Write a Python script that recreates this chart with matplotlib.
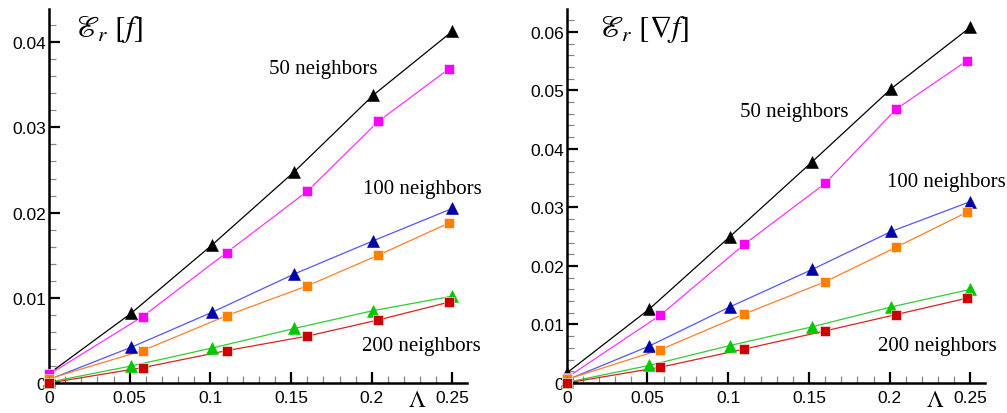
import matplotlib
matplotlib.use("Agg")
import matplotlib.pyplot as plt
from matplotlib.ticker import MultipleLocator
from matplotlib.transforms import blended_transform_factory

plt.rcParams['mathtext.fontset'] = 'stix'

# ---- data ----
lam_tri = [0.0, 0.051, 0.101, 0.152, 0.201, 0.250]
lam_sq = [0.0, 0.058, 0.110, 0.160, 0.204, 0.248]

# left panel: E_r[f]
f_50_tri = [0.0011, 0.0082, 0.0162, 0.0248, 0.0338, 0.0413]
f_50_sq = [0.0010, 0.0078, 0.0153, 0.0225, 0.0307, 0.0369]
f_100_tri = [0.0004, 0.0042, 0.0083, 0.0128, 0.0167, 0.0205]
f_100_sq = [0.0005, 0.0038, 0.0079, 0.0114, 0.0150, 0.0188]
f_200_tri = [0.0001, 0.0020, 0.0041, 0.0064, 0.0085, 0.0102]
f_200_sq = [0.0000, 0.0018, 0.0038, 0.0055, 0.0074, 0.0095]

# right panel: E_r[grad f]
g_50_tri = [0.0017, 0.0126, 0.0250, 0.0378, 0.0503, 0.0608]
g_50_sq = [0.0009, 0.0116, 0.0237, 0.0341, 0.0468, 0.0551]
g_100_tri = [0.0005, 0.0063, 0.0130, 0.0194, 0.0259, 0.0310]
g_100_sq = [0.0006, 0.0057, 0.0118, 0.0173, 0.0232, 0.0292]
g_200_tri = [0.0001, 0.0030, 0.0064, 0.0096, 0.0130, 0.0160]
g_200_sq = [0.0000, 0.0027, 0.0058, 0.0089, 0.0117, 0.0145]

left_yticks = [0, 0.01, 0.02, 0.03, 0.04]
left_yticklabels = ['0', '0.01', '0.02', '0.03', '0.04']
right_yticks = [0, 0.01, 0.02, 0.03, 0.04, 0.05, 0.06]
right_yticklabels = ['0', '0.01', '0.02', '0.03', '0.04', '0.05', '0.06']
xticks = [0, 0.05, 0.1, 0.15, 0.2, 0.25]
xticklabels = ['0', '0.05', '0.1', '0.15', '0.2', '0.25']
labels = ['50 neighbors', '100 neighbors', '200 neighbors']

# styles: (line color, marker color, marker)
styles = [
    ('#000000', '#000000', '^'),
    ('#ff33ff', '#ff00ff', 's'),
    ('#5555ff', '#0000a8', '^'),
    ('#ff7f2a', '#ff8000', 's'),
    ('#33cc33', '#00c800', '^'),
    ('#dd2222', '#cc0000', 's'),
]

fig = plt.figure(figsize=(10.07, 4.14), dpi=100)
axL = fig.add_axes([49 / 1007, 30 / 414, 418 / 1007, 374 / 414])
axR = fig.add_axes([566.7 / 1007, 30 / 414, 418.3 / 1007, 374 / 414])

tick_font = dict(family='Liberation Sans', size=12.5)
serif = ['Liberation Serif', 'DejaVu Serif']


def draw(ax, series, ymax, yticks, yticklabels, title, title_x, label_pos):
    for (ys, lamx), (lc, mc, mk) in zip(series, styles):
        ms = 8 if mk == '^' else 7
        ax.plot(lamx, ys, color=lc, lw=0.9, zorder=2, clip_on=False)
        ax.plot(lamx, ys, ls='none', marker=mk, ms=ms, mfc=mc,
                mec='white' if mk == 's' else mc, mew=0.4, zorder=3,
                clip_on=False)
    ax.set_xlim(0, 0.259)
    ax.set_ylim(0, ymax)
    for s in ['top', 'right']:
        ax.spines[s].set_visible(False)
    for s in ['left', 'bottom']:
        ax.spines[s].set_linewidth(1.8)
    ax.set_xticks(xticks)
    ax.set_xticklabels(xticklabels, fontdict=tick_font)
    ax.set_yticks(yticks)
    ax.set_yticklabels(yticklabels, fontdict=tick_font)
    ax.xaxis.set_minor_locator(MultipleLocator(0.01))
    ax.yaxis.set_minor_locator(MultipleLocator(0.002))
    ax.tick_params(which='major', direction='in', length=8, width=1.6,
                   pad=2, color='black')
    ax.tick_params(which='minor', direction='in', length=5, width=0.9,
                   color='#888888')
    ax.tick_params(axis='x', which='major', pad=5)
    ax.text(title_x, 0.95, title, transform=ax.transAxes, fontsize=22,
            ha='left', va='center')
    for txt, (px, py) in zip(labels, label_pos):
        ax.text(px, py, txt, transform=ax.transAxes, fontsize=15,
                family=serif, ha='left', va='center')
    tr = blended_transform_factory(ax.transData, fig.transFigure)
    ax.text(0.228, 2 / 414, r'$\Lambda$', transform=tr, fontsize=17,
            ha='center', va='bottom', clip_on=False)


left_series = [(f_50_tri, lam_tri), (f_50_sq, lam_sq), (f_100_tri, lam_tri),
               (f_100_sq, lam_sq), (f_200_tri, lam_tri), (f_200_sq, lam_sq)]
right_series = [(g_50_tri, lam_tri), (g_50_sq, lam_sq), (g_100_tri, lam_tri),
                (g_100_sq, lam_sq), (g_200_tri, lam_tri), (g_200_sq, lam_sq)]

tL = r'$\mathscr{E}_r\ [f]$'
tR = r'$\mathscr{E}_r\ [\nabla f]$'
draw(axL, left_series, 0.0439, left_yticks, left_yticklabels, tL, 0.062,
     [(0.526, 0.840), (0.751, 0.519), (0.750, 0.100)])
draw(axR, right_series, 0.0639, right_yticks, right_yticklabels, tR, 0.078,
     [(0.4146, 0.7246), (0.7656, 0.538), (0.744, 0.100)])

fig.savefig('out.png', dpi=100)
